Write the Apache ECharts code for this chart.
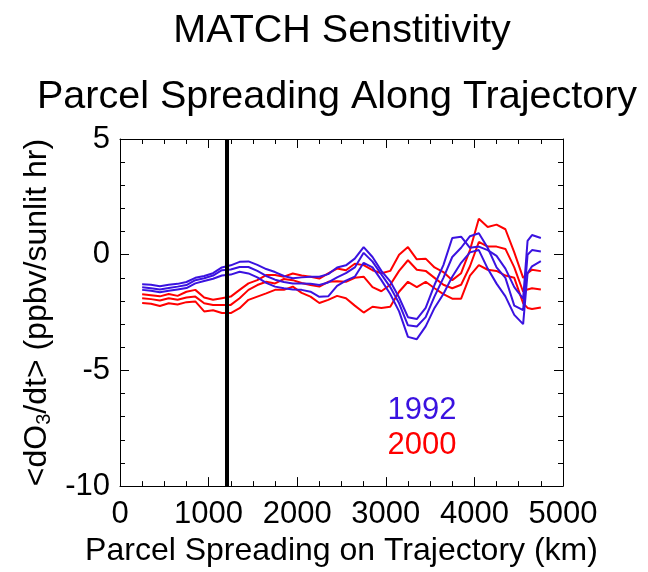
<!DOCTYPE html>
<html>
<head>
<meta charset="utf-8">
<script src="https://cdn.jsdelivr.net/npm/echarts@6/dist/echarts.min.js"></script>
<style>html,body{margin:0;padding:0;background:#fff;}#c{width:648px;height:572px;}</style>
</head>
<body>
<div id="c"></div>
<script>
const km = [250,350,450,550,650,750,850,950,1050,1150,1250,1350,1450,1550,1650,1750,1850,1950,2050,2150,2250,2350,2450,2550,2650,2750,2850,2950,3050,3150,3250,3350,3450,3550,3650,3750,3850,3950,4050,4150,4250,4350,4450,4550,4600,4650,4750];

const blue1 = [-1.28,-1.30,-1.36,-1.30,-1.26,-1.18,-1.00,-0.92,-0.80,-0.55,
  -0.46,-0.31,-0.29,-0.44,-0.62,-0.75,-0.92,-1.02,-0.98,-0.95,
  -0.95,-0.84,-0.55,-0.46,-0.17,0.33,-0.10,-0.70,-1.15,-1.85,
  -2.70,-2.78,-2.30,-1.30,-0.45,0.72,0.78,0.30,0.35,0.20,
  -0.05,-0.60,-1.40,-1.90,0.60,0.85,0.72];
const blue2 = [-1.41,-1.45,-1.50,-1.44,-1.38,-1.31,-1.10,-1.02,-0.90,-0.67,
  -0.64,-0.53,-0.53,-0.70,-0.92,-1.08,-1.18,-1.24,-1.24,-1.26,
  -1.31,-1.20,-0.98,-0.80,-0.55,0.08,-0.30,-0.85,-1.40,-2.10,
  -3.05,-3.10,-2.70,-1.80,-1.00,-0.10,0.30,0.80,0.93,0.30,
  -0.55,-1.00,-2.20,-2.40,0.00,0.20,0.14];
const blue3 = [-1.52,-1.56,-1.62,-1.56,-1.50,-1.44,-1.24,-1.14,-1.04,-0.90,
  -0.86,-0.74,-0.81,-0.98,-1.22,-1.38,-1.45,-1.50,-1.52,-1.60,
  -1.82,-1.80,-1.35,-1.12,-0.95,-0.35,-0.55,-1.10,-1.70,-2.45,
  -3.55,-3.65,-3.10,-2.30,-1.70,-0.95,-0.35,0.10,0.20,-0.60,
  -1.25,-1.80,-2.60,-3.00,-0.80,-0.50,-0.28];

const red1 = [-1.71,-1.75,-1.80,-1.70,-1.78,-1.60,-1.52,-1.85,-1.95,-1.88,
  -1.81,-1.52,-1.24,-1.10,-0.88,-0.88,-0.95,-0.81,-0.90,-0.95,
  -1.03,-0.81,-0.60,-0.67,-0.39,-0.45,-0.67,-0.80,-0.70,0.00,
  0.33,-0.20,-0.17,-0.55,-0.75,-1.10,-0.80,0.20,1.55,1.20,
  1.30,1.10,0.10,-1.00,-0.80,-0.65,-0.71];
const red2 = [-1.88,-1.92,-1.98,-1.88,-1.95,-1.85,-1.81,-2.10,-2.17,-2.17,
  -2.17,-1.88,-1.52,-1.31,-1.17,-1.24,-1.05,-1.10,-1.22,-1.31,
  -1.38,-1.17,-1.15,-1.17,-1.00,-0.95,-1.40,-1.58,-1.30,-0.70,
  -0.24,-0.65,-0.70,-1.00,-1.30,-1.45,-1.30,-0.50,0.55,0.35,
  0.35,0.25,-0.55,-1.60,-1.50,-1.45,-1.50];
const red3 = [-2.09,-2.12,-2.22,-2.10,-2.15,-2.05,-2.02,-2.45,-2.40,-2.52,
  -2.52,-2.31,-1.95,-1.81,-1.67,-1.52,-1.52,-1.38,-1.65,-1.81,
  -2.09,-1.95,-1.78,-1.88,-2.20,-2.50,-2.25,-2.30,-2.25,-1.60,
  -1.17,-1.40,-1.17,-1.45,-1.70,-1.90,-1.90,-0.90,-0.45,-0.65,
  -0.70,-0.90,-1.00,-2.10,-2.30,-2.35,-2.28];

const markKm = 1200;
const xTicks = [0,1000,2000,3000,4000,5000];
const yTicks = [-10,-5,0,5];
const legendLabels = ['1992','2000'];
const titles = ['MATCH Senstitivity','Parcel Spreading Along Trajectory'];

const BLUE = '#3a12e0';
const RED = '#ff0000';
const FONT = "'Liberation Sans', Arial, Helvetica, sans-serif";

function pairs(ys){ return km.map((x,i)=>[x, ys[i]]); }
function mkSeries(ys, color, extra){
  return Object.assign({
    type:'line', data: pairs(ys), showSymbol:false, symbol:'none',
    lineStyle:{color:color, width:2}, itemStyle:{color:color},
    xAxisIndex:0, yAxisIndex:0, z:3, silent:true
  }, extra||{});
}

const axLine = {show:true, onZero:false, lineStyle:{color:'#000', width:1}};
const axTick = {show:true, inside:true, length:9, lineStyle:{color:'#000', width:1}};
const plain = v => String(v);

const chart = echarts.init(document.getElementById('c'), null, {renderer:'canvas'});
chart.setOption({
  animation:false,
  backgroundColor:'#fff',
  grid:{left:120, right:85, top:139, bottom:81, containLabel:false},
  xAxis:[
    {type:'value', position:'bottom', min:xTicks[0], max:xTicks[xTicks.length-1], interval:1000,
      name:'Parcel Spreading on Trajectory (km)', nameLocation:'middle', nameGap:45,
      nameTextStyle:{fontFamily:FONT, fontSize:32, color:'#000'},
      axisLabel:{show:true, fontFamily:FONT, fontSize:31, color:'#000', margin:13, formatter:plain},
      axisLine:axLine, axisTick:axTick, splitLine:{show:false},
      minorTick:{show:true, splitNumber:4, length:5, lineStyle:{color:'#000'}}},
    {type:'value', position:'top', min:xTicks[0], max:xTicks[xTicks.length-1], interval:1000,
      axisLabel:{show:false}, axisLine:axLine, axisTick:axTick, splitLine:{show:false},
      minorTick:{show:true, splitNumber:4, length:5, lineStyle:{color:'#000'}}}
  ],
  yAxis:[
    {type:'value', position:'left', min:yTicks[0], max:yTicks[yTicks.length-1], interval:5,
      name:'<dO{sub|3}/dt> (ppbv/sunlit hr)', nameLocation:'middle', nameGap:66,
      nameTextStyle:{fontFamily:FONT, fontSize:32, color:'#000',
        rich:{sub:{fontFamily:FONT, fontSize:20, color:'#000', verticalAlign:'bottom', padding:[14,0,0,0]}}},
      axisLabel:{show:true, fontFamily:FONT, fontSize:31, color:'#000', margin:10, formatter:plain},
      axisLine:axLine, axisTick:axTick, splitLine:{show:false},
      minorTick:{show:true, splitNumber:5, length:5, lineStyle:{color:'#000'}}},
    {type:'value', position:'right', min:yTicks[0], max:yTicks[yTicks.length-1], interval:5,
      axisLabel:{show:false}, axisLine:axLine, axisTick:axTick, splitLine:{show:false},
      minorTick:{show:true, splitNumber:5, length:5, lineStyle:{color:'#000'}}}
  ],
  series:[
    mkSeries(red1, RED, {markLine:{silent:true, symbol:'none', label:{show:false},
      lineStyle:{color:'#000', width:4, type:'solid'}, data:[{xAxis:markKm}]}}),
    mkSeries(red2, RED),
    mkSeries(red3, RED),
    mkSeries(blue1, BLUE),
    mkSeries(blue2, BLUE),
    mkSeries(blue3, BLUE)
  ],
  graphic:[
    {type:'text', x:342, y:31, style:{text:titles[0], fill:'#000', font:'39.5px '+FONT, align:'center', verticalAlign:'middle'}},
    {type:'text', x:337, y:97, style:{text:titles[1], fill:'#000', font:'39.5px '+FONT, align:'center', verticalAlign:'middle'}},
    {type:'text', x:422, y:410, style:{text:legendLabels[0], fill:BLUE, font:'31px '+FONT, align:'center', verticalAlign:'middle'}},
    {type:'text', x:422, y:445, style:{text:legendLabels[1], fill:RED, font:'31px '+FONT, align:'center', verticalAlign:'middle'}}
  ]
});
</script>
</body>
</html>
